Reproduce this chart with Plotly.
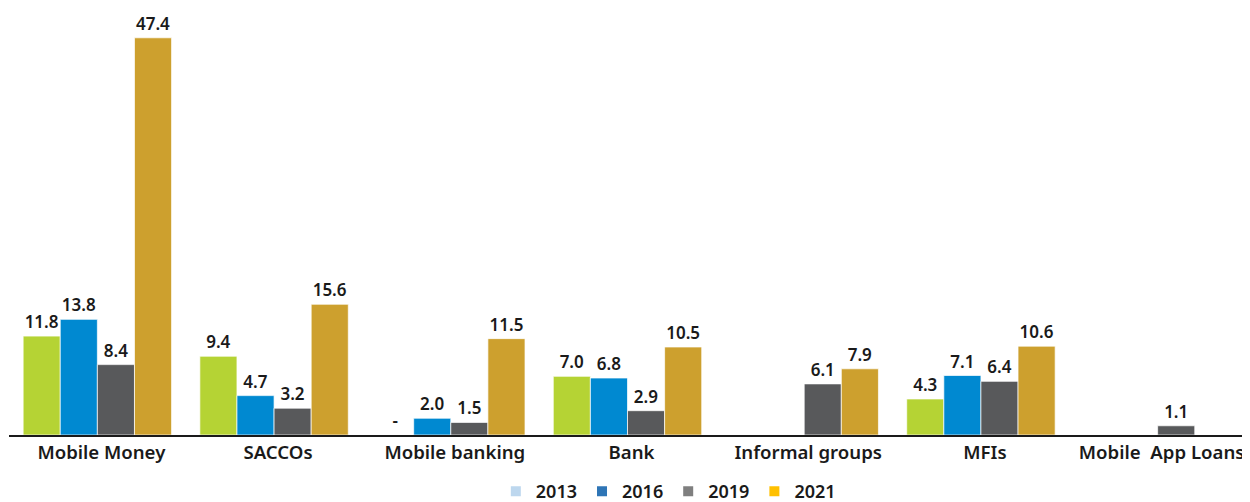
import plotly.graph_objects as go

categories = ['Mobile Money', 'SACCOs', 'Mobile banking', 'Bank', 'Informal groups', 'MFIs',
              'Mobile\u00a0\u00a0App Loans']
years = ['2013', '2016', '2019', '2021']
v2013 = [11.8, 9.4, 0, 7.0, None, 4.3, None]
v2016 = [13.8, 4.7, 2.0, 6.8, None, 7.1, None]
v2019 = [8.4, 3.2, 1.5, 2.9, 6.1, 6.4, 1.1]
v2021 = [47.4, 15.6, 11.5, 10.5, 7.9, 10.6, None]

bar_colors = ['#B5D334', '#0089D1', '#58595B', '#CDA02E']
legend_colors = ['#BDD7EE', '#2E75B6', '#7F7F7F', '#FFC000']


def labels(vals):
    out = []
    for v in vals:
        if v is None:
            out.append('')
        elif v == 0:
            out.append('-')
        else:
            out.append(f'{v:.1f}')
    return out


fig = go.Figure()
for name, vals, col in zip(years, [v2013, v2016, v2019, v2021], bar_colors):
    fig.add_trace(go.Bar(x=categories, y=vals, name=name, text=labels(vals),
                         textposition='outside', cliponaxis=False, constraintext='none',
                         textfont=dict(size=17, color='#1a1a1a', family='Noto Sans', weight=600),
                         marker=dict(color=col, line=dict(color='rgba(255,255,255,0.7)', width=1)),
                         showlegend=False))

# legend swatches use their own colours in the original
for name, col in zip(years, legend_colors):
    fig.add_trace(go.Scatter(x=[None], y=[None], name=name, mode='markers',
                             marker=dict(color=col, symbol='square', size=10)))

# page body keeps its default 8px margin, so the figure is 8px smaller than the window
fig.update_layout(
    width=1242, height=494,
    barmode='group', bargap=0.16, bargroupgap=0,
    plot_bgcolor='white', paper_bgcolor='white',
    margin=dict(l=1, r=4, t=8, b=67, autoexpand=False),
    font=dict(family='Noto Sans', size=16, color='#1a1a1a'),
    legend=dict(orientation='h', x=0.533, xanchor='center', y=-0.135, yanchor='middle',
                font=dict(size=18, weight=600), itemwidth=30, traceorder='normal'),
    xaxis=dict(showline=True, linecolor='#1a1a1a', linewidth=2, ticks='', automargin=False,
               ticklabelshift=4, tickfont=dict(size=18.6, weight=600)),
    yaxis=dict(visible=False, range=[0, 50.0], showgrid=False),
)

fig.write_html("out.html")
